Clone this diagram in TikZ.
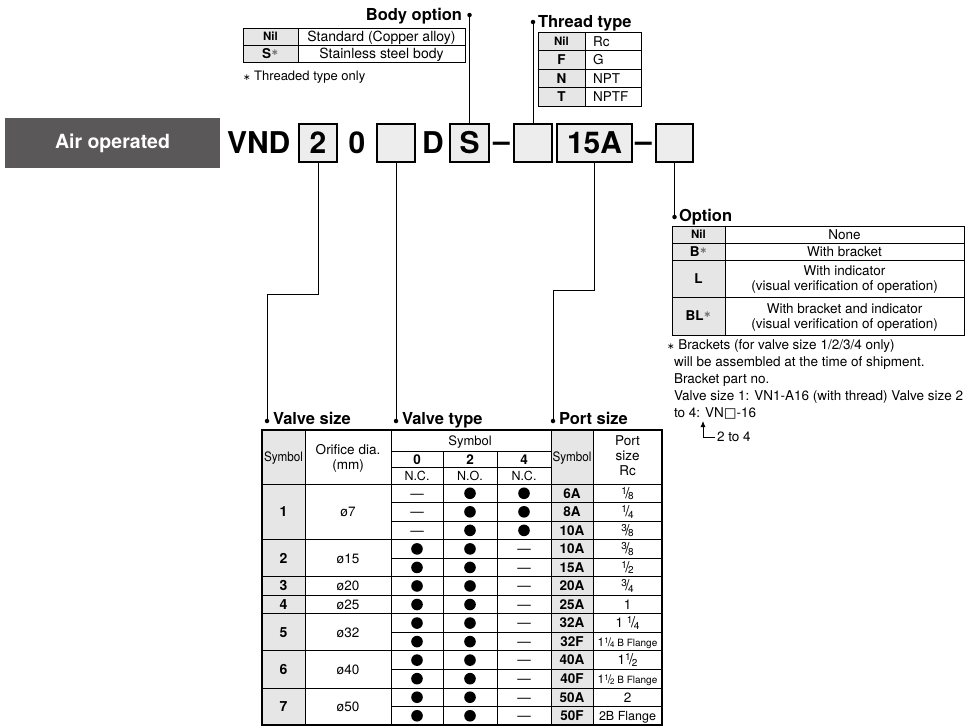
\documentclass[tikz,border=0pt]{standalone}
\usepackage{fontspec}
\usepackage{graphicx}
\setmainfont{TeX Gyre Heros}
\newfontfamily\djv{DejaVu Sans}
\usetikzlibrary{arrows.meta}
\definecolor{cellgray}{HTML}{E6E6E6}
\definecolor{boxgray}{HTML}{EDEDED}
\definecolor{darkbox}{HTML}{5A5858}
\newcommand\setfs[1]{\fontsize{#1}{#1}\selectfont}
\newcommand\myfrac[2]{\raisebox{4pt}{\setfs{10}#1}\kern-1.4pt{\setfs{15}/}\kern-1.4pt\raisebox{-1.5pt}{\setfs{10}#2}}
\newcommand\myfracs[2]{\raisebox{3pt}{\setfs{8}#1}\kern-1pt{\setfs{12}/}\kern-1pt\raisebox{-1pt}{\setfs{8}#2}}
\newcommand\smallast{{\djv\setfs{9}∗}}
\newcommand\cellast{{\color{black!55}\djv\setfs{9}\raisebox{3pt}{∗}}}
\begin{document}
\begin{tikzpicture}[x=1pt,y=-1pt,
  every node/.style={inner sep=0pt,outer sep=0pt},
  txt/.style={font=\setfs{13.5},text height=9.7pt,text depth=0pt},
  txtb/.style={font=\bfseries\setfs{13.5},text height=9.7pt,text depth=0pt},
  txts/.style={font=\bfseries\setfs{11.5},text height=8.3pt,text depth=0pt},
  title/.style={font=\bfseries\setfs{16.5}},
  code/.style={font=\bfseries\setfs{30}},
  codebox/.style={draw,line width=1.2pt,fill=boxgray,minimum height=38pt,font=\bfseries\setfs{30}},
  dotnode/.style={circle,fill,minimum size=4.5pt},
  tline/.style={line width=0.9pt},
  subline/.style={line width=0.6pt},
  conn/.style={line width=1pt}
]
\useasboundingbox (0,0) rectangle (973,726);
\fill[white] (0,0) rectangle (973,726);

% ---- code row
\node[fill=darkbox,minimum width=215pt,minimum height=50pt,text=white,font=\bfseries\setfs{19.5}] (air) at (112.5,143) {Air operated};
\node[code,anchor=west] (vnd) at (227,143) {VND};
\node[codebox,minimum width=38pt] (b2) at (318,143) {2};
\node[code] (z0) at (357,143) {0};
\node[codebox,minimum width=38pt] (btype) at (396,143) {};
\node[code] (dd) at (433,143) {D};
\node[codebox,minimum width=39pt] (bs) at (469.5,143) {S};
\node[code,anchor=base] (dash1) at (501.5,151) {–};
\node[codebox,minimum width=38pt] (bthr) at (533,143) {};
\node[codebox,minimum width=75pt] (bport) at (594.5,143) {15A};
\node[code,anchor=base] (dash2) at (643.5,151) {–};
\node[codebox,minimum width=37pt] (bopt) at (674.5,143) {};

% ---- body option
\node[title,anchor=base east] (tbody) at (462,20) {Body option};
\node[dotnode] (dbody) at (469.5,15) {};
\draw[conn] (bs.north) -- (dbody);
\fill[cellgray] (243,28) rectangle (298,62);
\draw[tline] (243,28) rectangle (465,62);
\draw[tline] (298,28) -- (298,62) (243,45) -- (465,45);
\node[txts] (bn1) at (270.5,36.5) {Nil};
\node[txt,font=\setfs{14}] (bv1) at (381.5,36.5) {Standard (Copper alloy)};
\node[txtb] (bn2) at (270.5,53.5) {S\cellast};
\node[txt,font=\setfs{14}] (bv2) at (381.5,53.5) {Stainless steel body};
\node[txt,font=\setfs{13},anchor=base west] (bnote) at (243,80) {\smallast\ Threaded type only};

% ---- thread type
\node[dotnode] (dthr) at (533,22) {};
\node[title,anchor=base west] (tthr) at (538,27) {Thread type};
\draw[conn] (bthr.north) -- (dthr);
\fill[cellgray] (538,32) rectangle (585,106);
\draw[tline] (538,32) rectangle (641,106);
\draw[tline] (585,32) -- (585,106);
\foreach \yy in {50.5,69,87.5} \draw[tline] (538,\yy) -- (641,\yy);
\node[txts] (tn1) at (561.5,41.25) {Nil};
\node[txtb] (tn2) at (561.5,59.75) {F};
\node[txtb] (tn3) at (561.5,78.25) {N};
\node[txtb] (tn4) at (561.5,96.75) {T};
\node[txt,anchor=west] (tv1) at (593,41.25) {Rc};
\node[txt,anchor=west] (tv2) at (593,59.75) {G};
\node[txt,anchor=west] (tv3) at (593,78.25) {NPT};
\node[txt,anchor=west] (tv4) at (593,96.75) {NPTF};

% ---- option
\node[dotnode] (dopt) at (674.5,217) {};
\node[title,anchor=base west] (topt) at (679,221) {Option};
\draw[conn] (bopt.south) -- (dopt);
\fill[cellgray] (672,226) rectangle (725,335);
\draw[tline] (672,226) rectangle (964,335);
\draw[tline] (725,226) -- (725,335);
\foreach \yy in {243,260,297} \draw[tline] (672,\yy) -- (964,\yy);
\node[txts] (on1) at (698.5,234.5) {Nil};
\node[txtb] (on2) at (698.5,251.5) {B\cellast};
\node[txtb] (on3) at (698.5,278.5) {L};
\node[txtb] (on4) at (698.5,316) {BL\cellast};
\node[txt] (ov1) at (844.5,234.5) {None};
\node[txt] (ov2) at (844.5,251.5) {With bracket};
\node[txt] (ov3a) at (844.5,271) {With indicator};
\node[txt] (ov3b) at (844.5,286) {(visual verification of operation)};
\node[txt] (ov4a) at (844.5,308.5) {With bracket and indicator};
\node[txt] (ov4b) at (844.5,323.5) {(visual verification of operation)};
\node[txt,anchor=base west] (n1) at (667,349) {\smallast\ Brackets (for valve size 1/2/3/4 only)};
\node[txt,anchor=base west] (n2) at (674,366) {will be assembled at the time of shipment.};
\node[txt,anchor=base west] (n3) at (674,383) {Bracket part no.};
\node[txt,anchor=base west] (n4) at (674,400) {Valve size 1: VN1-A16 (with thread) Valve size 2};
\node[txt,anchor=base west] (n5) at (674,417) {to 4: VN{\djv □}-16};
\coordinate (vtip) at (703,421);
\node[txt,anchor=west] (t24) at (717,437) {2 to 4};
\draw[line width=0.8pt,{Latex[length=6pt,width=5pt]}-] (vtip) |- ([xshift=-2pt]t24.west);

% ---- bottom titles and connectors
\node[dotnode] (dvs) at (267,421) {};
\node[title,anchor=base west] (tvs) at (273,424) {Valve size};
\node[dotnode] (dvt) at (396,421) {};
\node[title,anchor=base west] (tvt) at (402,424) {Valve type};
\node[dotnode] (dps) at (553,421) {};
\node[title,anchor=base west] (tps) at (559,424) {Port size};
\coordinate (kvs) at (267,294);
\coordinate (kps) at (553,290);
\draw[conn] (b2.south) |- (kvs) -- (dvs);
\draw[conn] (btype.south) -- (dvt);
\draw[conn] (bport.south) |- (kps) -- (dps);

% ---- bottom table
\fill[cellgray] (262,430) rectangle (305,725);
\fill[cellgray] (551,430) rectangle (593,725);
\draw[tline] (305,430) -- (305,725) (391,430) -- (391,725) (551,430) -- (551,725) (593,430) -- (593,725);
\draw[tline] (443,451) -- (443,725) (497,451) -- (497,725);
\draw[tline] (391,451) -- (551,451) (391,467) -- (551,467) (262,484) -- (662,484);
\foreach \k in {3,5,6,7,9,11} \draw[tline] (262,{484+18.54*\k}) -- (662,{484+18.54*\k});
\foreach \k in {1,2,4,8,10,12} \draw[subline] (391,{484+18.54*\k}) -- (662,{484+18.54*\k});
\draw[line width=1.2pt] (262,430) rectangle (662,725);

\node[txt,font=\setfs{13}] (hs1) at (283.5,457) {\scalebox{0.9}[1]{Symbol}};
\node[txt] (ho1) at (348,450) {Orifice dia.};
\node[txt] (ho2) at (348,465) {(mm)};
\node[txt,font=\setfs{13}] (hsm) at (470,441) {Symbol};
\node[txtb] (h0) at (417,459.5) {0};
\node[txtb] (h2) at (470,459.5) {2};
\node[txtb] (h4) at (524,459.5) {4};
\node[txt,font=\setfs{12.5}] (hn0) at (417,475.5) {N.C.};
\node[txt,font=\setfs{12.5}] (hn2) at (470,475.5) {N.O.};
\node[txt,font=\setfs{12.5}] (hn4) at (524,475.5) {N.C.};
\node[txt,font=\setfs{13}] (hs2) at (572,457) {\scalebox{0.9}[1]{Symbol}};
\node[txt] (hp1) at (627.5,441) {Port};
\node[txt] (hp2) at (627.5,456) {size};
\node[txt] (hp3) at (627.5,471) {Rc};

\foreach \lab/\ori/\a/\b in {1/ø7/0/3,2/ø15/3/5,3/ø20/5/6,4/ø25/6/7,5/ø32/7/9,6/ø40/9/11,7/ø50/11/13}{
  \node[txtb,font=\bfseries\setfs{14}] (vs\lab) at (283.5,{484+18.54*(\a+\b)/2}) {\lab};
  \node[txt] (or\lab) at (348,{484+18.54*(\a+\b)/2}) {\ori};
}
\foreach \k in {3,...,12} \fill (417,{484+18.54*(\k+0.5)}) circle[radius=5.8pt];
\foreach \k in {0,...,12} \fill (470,{484+18.54*(\k+0.5)}) circle[radius=5.8pt];
\foreach \k in {0,1,2} \fill (524,{484+18.54*(\k+0.5)}) circle[radius=5.8pt];
\foreach \k in {0,1,2} \node[txt] (dz\k) at (417,{484+18.54*(\k+0.5)}) {—};
\foreach \k in {3,...,12} \node[txt] (df\k) at (524,{484+18.54*(\k+0.5)}) {—};
\foreach \k/\s in {0/6A,1/8A,2/10A,3/10A,4/15A,5/20A,6/25A,7/32A,8/32F,9/40A,10/40F,11/50A,12/50F}
  \node[txtb] (ps\k) at (572,{484+18.54*(\k+0.5)}) {\s};
\foreach \k/\r in {0/{\myfrac18},1/{\myfrac14},2/{\myfrac38},3/{\myfrac38},4/{\myfrac12},5/{\myfrac34},6/{1},7/{1 \myfrac14},8/{\setfs{12}1\myfracs14\setfs{10} B Flange},9/{1\myfrac12},10/{\setfs{12}1\myfracs12\setfs{10} B Flange},11/{2},12/{\setfs{12.5}2B Flange}}
  \node[txt] (rc\k) at (627.5,{484+18.54*(\k+0.5)}) {\r};
\end{tikzpicture}
\end{document}
